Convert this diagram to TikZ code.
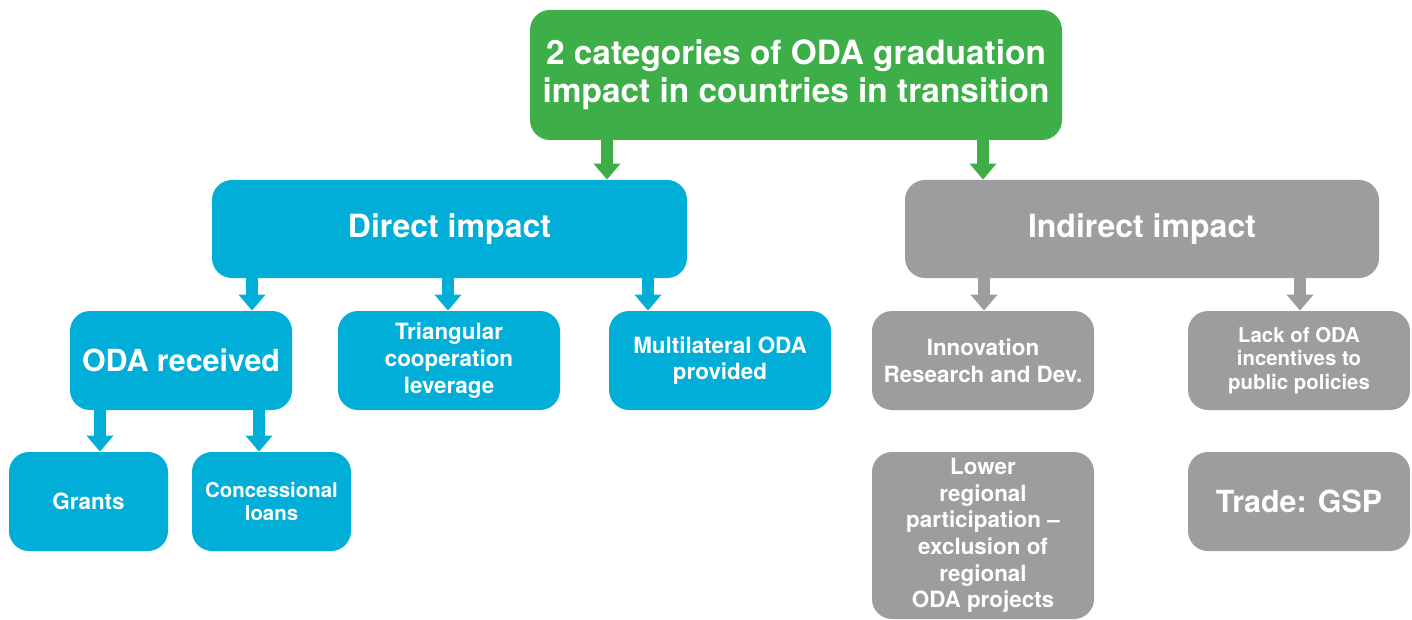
\documentclass[tikz,border=0pt]{standalone}
\usepackage{fontspec}
\setmainfont{TeX Gyre Heros}
\usetikzlibrary{arrows.meta}
\definecolor{odagreen}{RGB}{62,174,73}
\definecolor{odacyan}{RGB}{0,174,215}
\definecolor{odagray}{RGB}{157,157,159}
\tikzset{
  box/.style={rounded corners=10pt, align=center, inner sep=0pt, text=white},
  kgreen/.style={box, fill=odagreen}, kcyan/.style={box, fill=odacyan},
  kgray/.style={box, fill=odagray},
  hugetext/.style={font=\bfseries\fontsize{16.7}{19}\selectfont},
  headtext/.style={font=\bfseries\fontsize{16}{19}\selectfont},
  bigtext/.style={font=\bfseries\fontsize{15.2}{18}\selectfont},
  smalltext/.style={font=\bfseries\fontsize{11.2}{13.3}\selectfont},
  tinytext/.style={font=\bfseries\fontsize{10.2}{11.8}\selectfont},
  flow/.style={-{Triangle[width=13pt, length=8pt]}, line width=6pt},
}
\begin{document}
\begin{tikzpicture}[x=0.5pt, y=-0.5pt]
    \useasboundingbox (0,0) rectangle (1412,620);
    \node[kgreen, hugetext, minimum width=266pt, minimum height=65pt] (title) at (796,75) {2 categories of ODA graduation\\impact in countries in transition};
    \node[kcyan, headtext, minimum width=237.5pt, minimum height=49pt] (direct) at (449.5,229) {Direct impact};
    \node[kgray, headtext, minimum width=237pt, minimum height=49pt] (indirect) at (1142,229) {Indirect impact};
    \node[kcyan, bigtext, minimum width=111pt, minimum height=49.5pt] (received) at (181,360.5) {ODA received};
    \node[kcyan, smalltext, minimum width=111pt, minimum height=49.5pt] (triangular) at (449,360.5) {Triangular\\cooperation\\leverage};
    \node[kcyan, smalltext, minimum width=111pt, minimum height=49.5pt] (multilateral) at (720,360.5) {Multilateral ODA\\provided};
    \node[kgray, smalltext, minimum width=111pt, minimum height=49.5pt] (innovation) at (983,360.5) {Innovation\\Research and Dev.};
    \node[kgray, tinytext, minimum width=111pt, minimum height=49.5pt] (lack) at (1299,360.5) {Lack of ODA\\incentives to\\public policies};
    \node[kcyan, smalltext, minimum width=79.5pt, minimum height=49.5pt] (grants) at (88.5,501.5) {Grants};
    \node[kcyan, tinytext, minimum width=79.5pt, minimum height=49.5pt] (concessional) at (271.5,501.5) {Concessional\\loans};
    \node[kgray, smalltext, minimum width=111pt, minimum height=83.5pt] (lower) at (983,535.5) {Lower\\regional\\participation --\\exclusion of\\regional\\ODA projects};
    \node[kgray, bigtext, minimum width=111pt, minimum height=49.5pt] (trade) at (1299,501.5) {Trade: GSP};
    \draw[flow, odagreen] (607,0 |- title.south) -- (607,0 |- direct.north);
    \draw[flow, odagreen] (983,0 |- title.south) -- (983,0 |- indirect.north);
    \draw[flow, odacyan] (252,0 |- direct.south) -- (252,0 |- received.north);
    \draw[flow, odacyan] (448,0 |- direct.south) -- (448,0 |- triangular.north);
    \draw[flow, odacyan] (648,0 |- direct.south) -- (648,0 |- multilateral.north);
    \draw[flow, odagray] (984,0 |- indirect.south) -- (984,0 |- innovation.north);
    \draw[flow, odagray] (1300,0 |- indirect.south) -- (1300,0 |- lack.north);
    \draw[flow, odacyan] (100,0 |- received.south) -- (100,0 |- grants.north);
    \draw[flow, odacyan] (259,0 |- received.south) -- (259,0 |- concessional.north);
  \end{tikzpicture}
\end{document}
